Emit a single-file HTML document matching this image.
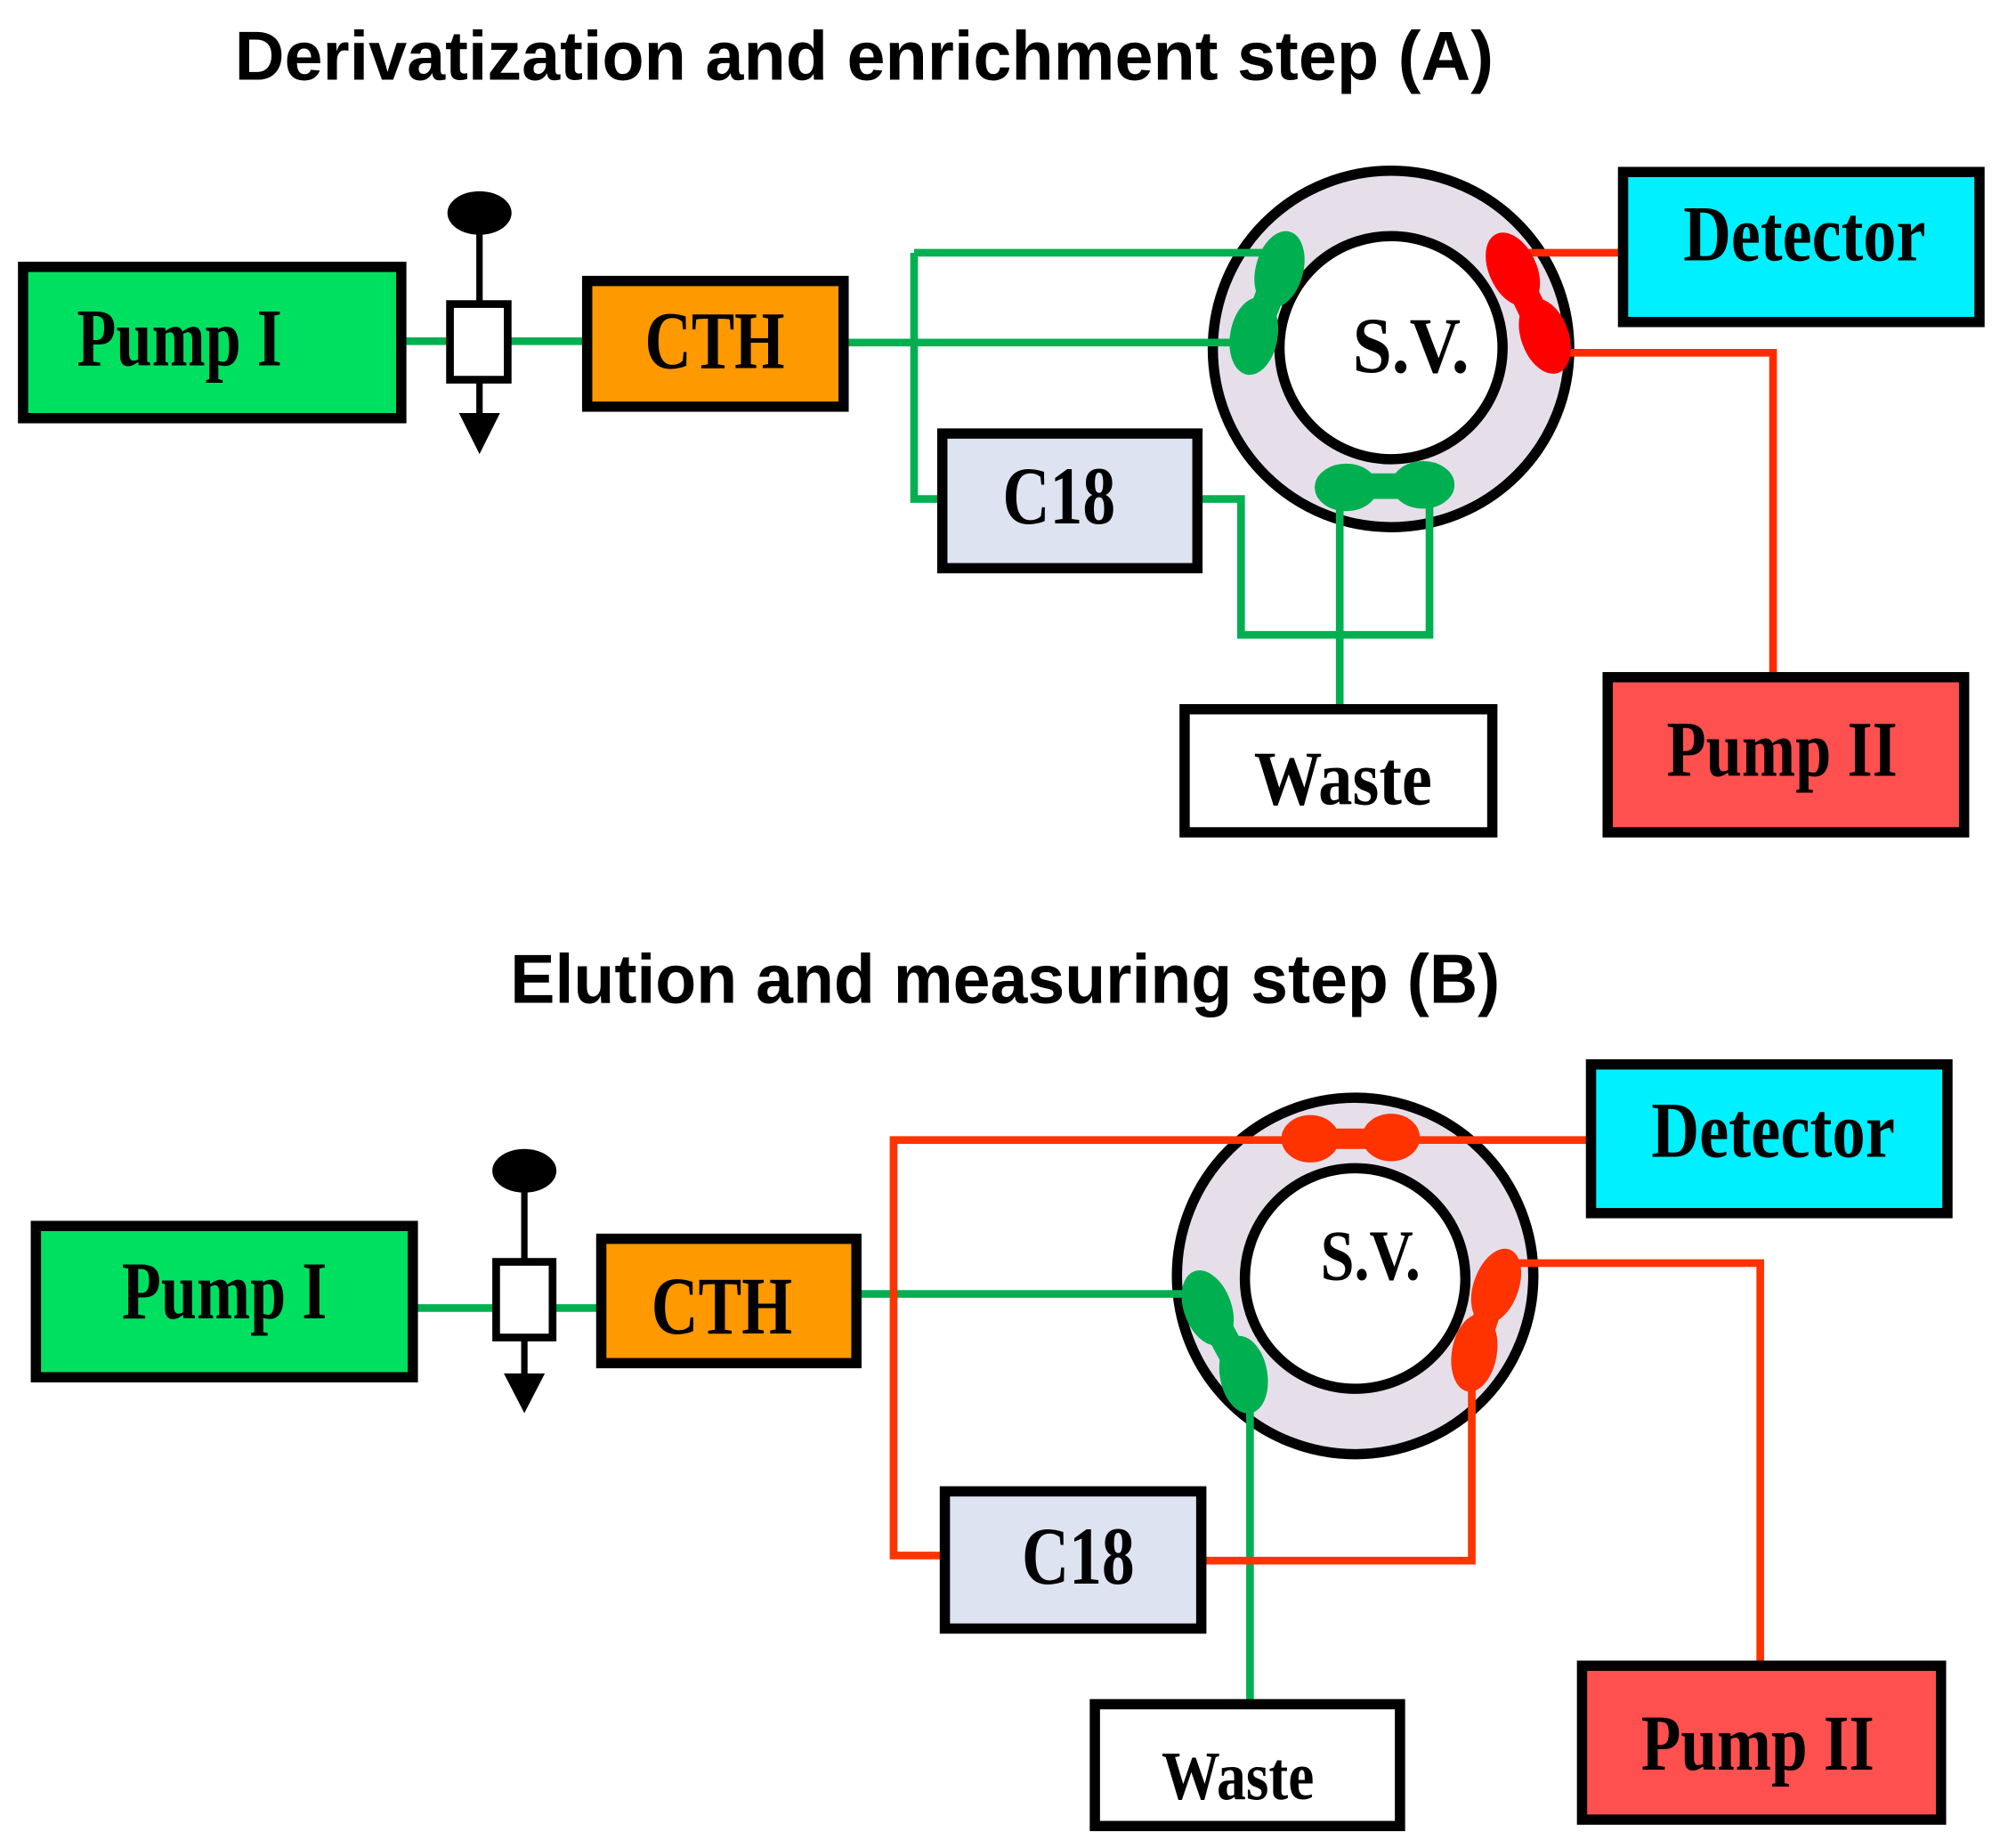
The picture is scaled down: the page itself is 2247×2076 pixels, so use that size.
<!DOCTYPE html>
<html><head><meta charset="utf-8"><style>
html,body{margin:0;padding:0;background:#fff;}
svg{display:block;}
.t{font-family:"Liberation Sans",sans-serif;font-weight:bold;}
.s{font-family:"Liberation Serif",serif;font-weight:bold;}
</style></head><body>
<svg width="2247" height="2076" viewBox="0 0 1560 1441" xmlns="http://www.w3.org/2000/svg">
<rect width="1560" height="1441" fill="#fff"/>
<!-- ===== A ===== -->
<text class="t" x="183" y="62" font-size="54" textLength="982" lengthAdjust="spacingAndGlyphs">Derivatization and enrichment step (A)</text>
<!-- valve A -->
<ellipse cx="374" cy="166" rx="25" ry="17" fill="#000"/>
<path d="M374 166V236 M374 296V330" stroke="#000" stroke-width="5"/>
<path d="M358 322H390L374 354Z" fill="#000"/>
<!-- SV A -->
<circle cx="1085" cy="272" r="139" fill="#e6dfea" stroke="#000" stroke-width="8"/>
<circle cx="1085" cy="271" r="87" fill="#fff" stroke="#000" stroke-width="8"/>
<g fill="none" stroke-width="6">
<path d="M314 266H457" stroke="#00b050"/>
<path d="M659 267H978 M713 197H1000 M713 197V389H735" stroke="#00b050"/>
<path d="M935 389H968V495H1115V378 M1045 378V552" stroke="#00b050"/>
<path d="M1175 197H1265 M1210 275H1383V527" stroke="#ff2a00"/>
</g>
<rect x="351" y="237" width="45" height="59" fill="#fff" stroke="#000" stroke-width="6"/>
<!-- boxes A -->
<rect x="18" y="208" width="295" height="118" fill="#00e060" stroke="#000" stroke-width="8"/>
<text class="s" x="60" y="285" font-size="64" textLength="160" lengthAdjust="spacingAndGlyphs">Pump I</text>
<rect x="458" y="219" width="200" height="98" fill="#ff9900" stroke="#000" stroke-width="8"/>
<text class="s" x="503" y="287" font-size="64" textLength="109" lengthAdjust="spacingAndGlyphs">CTH</text>
<rect x="735" y="338" width="199" height="105" fill="#dde3f0" stroke="#000" stroke-width="8"/>
<text class="s" x="782" y="408" font-size="64" textLength="88" lengthAdjust="spacingAndGlyphs">C18</text>
<rect x="1266" y="134" width="278" height="117" fill="#00f0ff" stroke="#000" stroke-width="8"/>
<text class="s" x="1313" y="203" font-size="62" textLength="189" lengthAdjust="spacingAndGlyphs">Detector</text>
<rect x="1254" y="528" width="278" height="121" fill="#ff5050" stroke="#000" stroke-width="8"/>
<text class="s" x="1300" y="605" font-size="62" textLength="180" lengthAdjust="spacingAndGlyphs">Pump II</text>
<rect x="924" y="553" width="240" height="96" fill="#fff" stroke="#000" stroke-width="8"/>
<text class="s" x="978" y="627" font-size="60" textLength="139" lengthAdjust="spacingAndGlyphs">Waste</text>
<text class="s" x="1055" y="290" font-size="62" textLength="91" lengthAdjust="spacingAndGlyphs">S.V.</text>
<g fill="#00b050" stroke="#00b050">
<ellipse cx="998" cy="210" rx="18" ry="30" transform="rotate(15 998 210)"/>
<ellipse cx="978" cy="262" rx="18" ry="30" transform="rotate(10 978 262)"/>
<line x1="998" y1="210" x2="978" y2="262" stroke-width="22"/>
<ellipse cx="1050" cy="380" rx="24" ry="18"/>
<ellipse cx="1110" cy="378" rx="24" ry="18"/>
<line x1="1050" y1="379" x2="1110" y2="379" stroke-width="20"/>
</g>
<g fill="#ff0000" stroke="#ff0000">
<ellipse cx="1180" cy="210" rx="18" ry="30" transform="rotate(-25 1180 210)"/>
<ellipse cx="1205" cy="262" rx="18" ry="30" transform="rotate(-20 1205 262)"/>
<line x1="1180" y1="210" x2="1205" y2="262" stroke-width="22"/>
</g>
<!-- ===== B ===== -->
<text class="t" x="398" y="782" font-size="54" textLength="772" lengthAdjust="spacingAndGlyphs">Elution and measuring step (B)</text>
<ellipse cx="409" cy="913" rx="25" ry="17" fill="#000"/>
<path d="M409 913V984 M409 1043V1075" stroke="#000" stroke-width="5"/>
<path d="M393 1071H425L409 1102Z" fill="#000"/>
<circle cx="1057" cy="995" r="139" fill="#e6dfea" stroke="#000" stroke-width="8"/>
<circle cx="1057" cy="997" r="86" fill="#fff" stroke="#000" stroke-width="8"/>
<g fill="none" stroke-width="6">
<path d="M323 1020H468" stroke="#00b050"/>
<path d="M669 1009H942 M975 1078V1328" stroke="#00b050"/>
<path d="M1240 889H697V1213H736 M1175 985H1373V1299 M1148 1062V1217H938" stroke="#ff3300"/>
</g>
<rect x="387" y="984" width="44" height="59" fill="#fff" stroke="#000" stroke-width="6"/>
<rect x="28" y="956" width="294" height="118" fill="#00e060" stroke="#000" stroke-width="8"/>
<text class="s" x="95" y="1028" font-size="64" textLength="160" lengthAdjust="spacingAndGlyphs">Pump I</text>
<rect x="469" y="966" width="199" height="97" fill="#ff9900" stroke="#000" stroke-width="8"/>
<text class="s" x="508" y="1040" font-size="64" textLength="110" lengthAdjust="spacingAndGlyphs">CTH</text>
<rect x="737" y="1163" width="200" height="107" fill="#dde3f0" stroke="#000" stroke-width="8"/>
<text class="s" x="797" y="1235" font-size="64" textLength="88" lengthAdjust="spacingAndGlyphs">C18</text>
<rect x="1241" y="830" width="278" height="116" fill="#00f0ff" stroke="#000" stroke-width="8"/>
<text class="s" x="1288" y="902" font-size="62" textLength="190" lengthAdjust="spacingAndGlyphs">Detector</text>
<rect x="1234" y="1299" width="280" height="120" fill="#ff5050" stroke="#000" stroke-width="8"/>
<text class="s" x="1280" y="1380" font-size="62" textLength="182" lengthAdjust="spacingAndGlyphs">Pump II</text>
<rect x="854" y="1329" width="238" height="95" fill="#fff" stroke="#000" stroke-width="8"/>
<text class="s" x="906" y="1403" font-size="54" textLength="119" lengthAdjust="spacingAndGlyphs">Waste</text>
<text class="s" x="1030" y="998" font-size="56" textLength="78" lengthAdjust="spacingAndGlyphs">S.V.</text>
<g fill="#ff3300" stroke="#ff3300">
<ellipse cx="1022" cy="888" rx="22" ry="18"/>
<ellipse cx="1085" cy="887" rx="22" ry="18"/>
<line x1="1022" y1="888" x2="1085" y2="888" stroke-width="16"/>
<ellipse cx="1167" cy="1003" rx="17" ry="30" transform="rotate(20 1167 1003)"/>
<ellipse cx="1150" cy="1055" rx="17" ry="30" transform="rotate(10 1150 1055)"/>
<line x1="1167" y1="1003" x2="1150" y2="1055" stroke-width="20"/>
</g>
<g fill="#00b050" stroke="#00b050">
<ellipse cx="942" cy="1020" rx="18" ry="30" transform="rotate(-20 942 1020)"/>
<ellipse cx="970" cy="1072" rx="18" ry="30" transform="rotate(-10 970 1072)"/>
<line x1="942" y1="1020" x2="970" y2="1072" stroke-width="22"/>
</g>
</svg>
</body></html>
